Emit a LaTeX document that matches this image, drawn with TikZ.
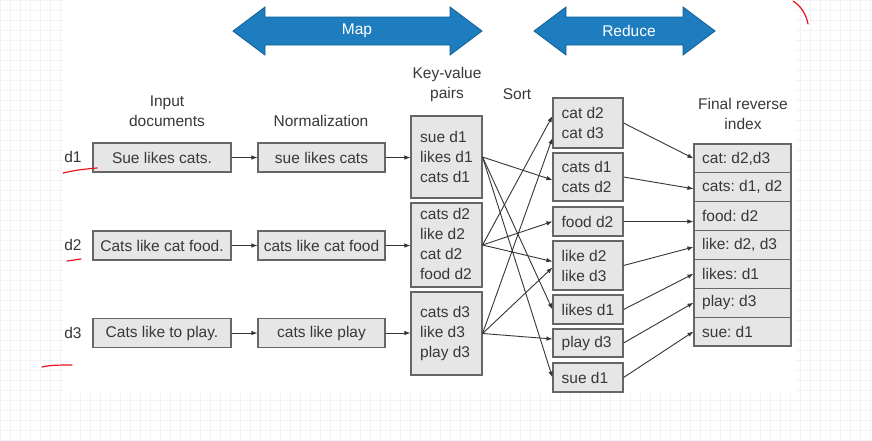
\documentclass[tikz,border=0pt]{standalone}
\usepackage{fontspec}
\setmainfont{Liberation Sans}
\frenchspacing
\usetikzlibrary{arrows.meta,calc}
\definecolor{txt}{HTML}{383838}
\definecolor{boxfill}{HTML}{E6E6E6}
\definecolor{boxline}{HTML}{666666}
\definecolor{bigblue}{HTML}{1E7DBF}
\definecolor{bigline}{HTML}{0F5E94}
\definecolor{gridc}{HTML}{F1F3F8}
\definecolor{penred}{HTML}{E8141B}
\begin{document}
\begin{tikzpicture}[x=1pt,y=-1pt,
  every node/.style={text=txt,font=\fontsize{15.5}{20}\selectfont,inner sep=0pt},
  cbox/.style={draw=boxline,fill=boxfill,line width=1.1pt,minimum height=#1},
  cbox/.default=29,
  inbox/.style={cbox,minimum width=138},
  nobox/.style={cbox,minimum width=127},
  kvbox/.style={cbox=#1,minimum width=71},
  sortbox/.style={cbox=#1,minimum width=70},
  finbox/.style={cbox=28.86,minimum width=97},
  intext/.style={anchor=west,align=left},
  lbl/.style={align=center},
  arr/.style={draw=txt!95!black,line width=0.9pt,-{Latex[length=6pt,width=4.5pt]}},
  bigarrow/.style={fill=bigblue,draw=bigline,line width=0.8pt},
  pen/.style={draw=penred,line width=1.2pt,line cap=round}]
\useasboundingbox (0,0) rectangle (872,440);
% faint background grid
\draw[gridc,line width=0.5pt] (0,0) grid[step=10pt] (872,440);
\fill[white] (63,0) rectangle (795,393);

% big arrows
\draw[bigarrow] (233,31) -- (265,7) -- (265,17) -- (450,17) -- (450,7) -- (482,31)
  -- (450,55) -- (450,45) -- (265,45) -- (265,55) -- cycle;
\node[text=white] (maplbl) at (357,31) {Map};
\draw[bigarrow] (534,31) -- (566,7) -- (566,17) -- (683,17) -- (683,7) -- (715,31)
  -- (683,55) -- (683,45) -- (566,45) -- (566,55) -- cycle;
\node[text=white] (redlbl) at (629,31) {Reduce};

% column labels
\node[lbl] (hin) at (167,111) {Input\\documents};
\node[lbl] (hno) at (321,121) {Normalization};
\node[lbl] (hkv) at (447,84) {Key-value\\pairs};
\node[lbl] (hso) at (517,94) {Sort};
\node[lbl] (hfi) at (743,113.5) {Final reverse\\index};

% document labels
\node (d1) at (73,157) {d1};
\node (d2) at (73,245) {d2};
\node (d3) at (73,333) {d3};

% input documents
\node[inbox] (in1) at (162,157.5) {Sue likes cats.};
\node[inbox] (in2) at (162,245.5) {Cats like cat food.};
\node[inbox] (in3) at (162,333) {Cats like to play.};

% normalization
\node[nobox] (no1) at (321.5,157.5) {sue likes cats};
\node[nobox] (no2) at (321.5,245.5) {cats like cat food};
\node[nobox] (no3) at (321.5,333) {cats like play};

% key-value pairs
\node[kvbox=82] (kv1) at (446.5,157) {};
\node[kvbox=84] (kv2) at (446.5,245) {};
\node[kvbox=83] (kv3) at (446.5,333.5) {};
\node[intext] (kv1t) at ([xshift=9.5pt]kv1.west) {sue d1\\likes d1\\cats d1};
\node[intext] (kv2t) at ([xshift=9.5pt,yshift=1.5pt]kv2.west) {cats d2\\like d2\\cat d2\\food d2};
\node[intext] (kv3t) at ([xshift=9.5pt]kv3.west) {cats d3\\like d3\\play d3};

% sorted
\node[sortbox=50] (cat) at (588,123) {};
\node[sortbox=48] (cats) at (588,177) {};
\node[sortbox=29] (food) at (588,221.5) {};
\node[sortbox=49] (like) at (588,265.5) {};
\node[sortbox=29] (likes) at (588,309.5) {};
\node[sortbox=28] (play) at (588,343) {};
\node[sortbox=29] (sue) at (588,377.5) {};
\node[intext] (catt) at ([xshift=9pt]cat.west) {cat d2\\cat d3};
\node[intext] (catst) at ([xshift=9pt]cats.west) {cats d1\\cats d2};
\node[intext] (foodt) at ([xshift=9pt]food.west) {food d2};
\node[intext] (liket) at ([xshift=9pt]like.west) {like d2\\like d3};
\node[intext] (likest) at ([xshift=9pt]likes.west) {likes d1};
\node[intext] (playt) at ([xshift=9pt]play.west) {play d3};
\node[intext] (suet) at ([xshift=9pt]sue.west) {sue d1};

% final reverse index
\node[finbox] (fcat) at (742.5,158.43) {};
\node[finbox] (fcats) at (742.5,187.29) {};
\node[finbox] (ffood) at (742.5,216.14) {};
\node[finbox] (flike) at (742.5,245.0) {};
\node[finbox] (flikes) at (742.5,273.86) {};
\node[finbox] (fplay) at (742.5,302.71) {};
\node[finbox] (fsue) at (742.5,331.57) {};
\node[intext] (fcatt) at ([xshift=8.5pt]fcat.west) {cat: d2,d3};
\node[intext] (fcatst) at ([xshift=8.5pt]fcats.west) {cats: d1, d2};
\node[intext] (ffoodt) at ([xshift=8.5pt]ffood.west) {food: d2};
\node[intext] (fliket) at ([xshift=8.5pt]flike.west) {like: d2, d3};
\node[intext] (flikest) at ([xshift=8.5pt]flikes.west) {likes: d1};
\node[intext] (fplayt) at ([xshift=8.5pt]fplay.west) {play: d3};
\node[intext] (fsuet) at ([xshift=8.5pt]fsue.west) {sue: d1};

% input -> normalization -> key-value
\draw[arr] (in1.east) -- (in1.east -| no1.west);
\draw[arr] (in2.east) -- (in2.east -| no2.west);
\draw[arr] (in3.east) -- (in3.east -| no3.west);
\draw[arr] (no1.east) -- (no1.east -| kv1.west);
\draw[arr] (no2.east) -- (no2.east -| kv2.west);
\draw[arr] (no3.east) -- (no3.east -| kv3.west);

% key-value -> sort
\draw[arr] (kv1.east) -- ([yshift=-3pt]cats.west);
\draw[arr] (kv1.east) -- (likes.west);
\draw[arr] (kv1.east) -- (sue.west);
\draw[arr] (kv2.east) -- ([yshift=7pt]cat.west);
\draw[arr] (kv2.east) -- (food.west);
\draw[arr] (kv2.east) -- ([yshift=4pt]like.west);
\draw[arr] (kv3.east) -- ([yshift=-15pt]cat.west);
\draw[arr] (kv3.east) -- ([yshift=-2pt]like.west);
\draw[arr] (kv3.east) -- ([yshift=4pt]play.west);

% sort -> final
\draw[arr] (cat.east) -- (fcat.west);
\draw[arr] (cats.east) -- ([yshift=-1.5pt]fcats.west);
\draw[arr] (food.east) -- (food.east -| ffood.west);
\draw[arr] (like.east) -- ([yshift=-2pt]flike.west);
\draw[arr] (likes.east) -- (flikes.west);
\draw[arr] (play.east) -- (fplay.west);
\draw[arr] (sue.east) -- (fsue.west);

% red pen marks
\draw[pen] (63,173) .. controls (75,170) and (86,169) .. (97,168);
\draw[pen] (67,261) -- (81,259);
\draw[pen] (42,367) .. controls (50,365) and (60,365) .. (72,365);
\draw[pen] (793,1) .. controls (801,6) and (806,14) .. (808,24);
\end{tikzpicture}
\end{document}
